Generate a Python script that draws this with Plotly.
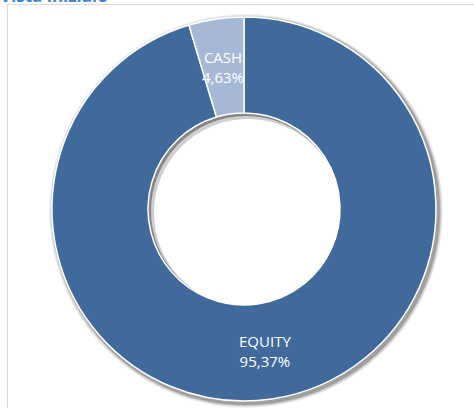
import math
import plotly.graph_objects as go

labels = ["EQUITY", "CASH"]
values = [95.37, 4.63]
colors = ["#3F6A9B", "#A7B8D6"]
title_text = "Vista iniziale"

W, H = 474, 408
CX, CY, R = 244, 209, 192   # pie centre and radius in pixels (from top-left)
HOLE = 0.5

dom_x = [(CX - R) / W, (CX + R) / W]
dom_y = [(H - CY - R) / H, (H - CY + R) / H]

fig = go.Figure(go.Pie(
    labels=labels, values=values, hole=HOLE, sort=False,
    direction="clockwise", rotation=0,
    marker=dict(colors=colors, line=dict(color="white", width=1.5)),
    textinfo="none", hoverinfo="label+percent",
    domain=dict(x=dom_x, y=dom_y), showlegend=False,
))

def px2paper(x, y):
    return x / W, 1 - y / H

shapes = []
# frame
shapes.append(dict(type="rect", xref="paper", yref="paper",
                   x0=7.5 / W, x1=1.02, y0=-0.02, y1=1 - 4.5 / H,
                   line=dict(color="#D9D9D9", width=1), fillcolor="rgba(0,0,0,0)",
                   layer="below"))
# outer shadow
for d, a in [(5, 0.05), (4, 0.08), (3, 0.12), (2, 0.18)]:
    x0, y0 = px2paper(CX - R - d + 2, CY - R - d + 2)
    x1, y1 = px2paper(CX + R + d + 2, CY + R + d + 2)
    shapes.append(dict(type="circle", xref="paper", yref="paper",
                       x0=x0, x1=x1, y0=y1, y1=y0, line=dict(width=0),
                       fillcolor=f"rgba(0,0,0,{a})", layer="below"))
# inner shadow inside hole
r_in = R * HOLE
x0, y0 = px2paper(CX - r_in, CY - r_in)
x1, y1 = px2paper(CX + r_in, CY + r_in)
shapes.append(dict(type="circle", xref="paper", yref="paper",
                   x0=x0, x1=x1, y0=y1, y1=y0, line=dict(width=0),
                   fillcolor="rgba(0,0,0,0.15)", layer="below"))
for off, rr, col in [(2, r_in - 1, "rgba(255,255,255,0.6)"), (4, r_in - 2, "white")]:
    x0, y0 = px2paper(CX - rr + off, CY - rr + off)
    x1, y1 = px2paper(CX + rr + off, CY + rr + off)
    shapes.append(dict(type="circle", xref="paper", yref="paper",
                       x0=x0, x1=x1, y0=y1, y1=y0, line=dict(width=0),
                       fillcolor=col, layer="below"))

# slice labels at mid radius of each slice (slices run clockwise from 12 o'clock)
annotations = []
total = sum(values)
cum = 0.0
r_mid = R * (1 + HOLE) / 2
for lab, v in zip(labels, values):
    mid = (cum + v / 2) / total * 2 * math.pi
    cum += v
    px = CX + r_mid * math.sin(mid)
    py = CY - r_mid * math.cos(mid)
    xp, yp = px2paper(px, py)
    pct = f"{v:.2f}".replace(".", ",") + "%"
    annotations.append(dict(x=xp, y=yp, xref="paper", yref="paper",
                            xanchor="center", yanchor="middle",
                            text=f"{lab}<br>{pct}", showarrow=False,
                            font=dict(family="Open Sans", size=15, color="white"),
                            align="center"))

annotations.append(dict(x=0, y=1, xref="paper", yref="paper", xanchor="left",
                        yanchor="bottom", yshift=-9, xshift=-2,
                        text=f"<b>{title_text}</b>", showarrow=False,
                        font=dict(family="Open Sans", size=17, color="#3E86D0")))

fig.update_layout(width=W, height=H, margin=dict(l=0, r=0, t=0, b=0),
                  paper_bgcolor="white", plot_bgcolor="white",
                  shapes=shapes, annotations=annotations)

fig.write_html("out.html", config={"displayModeBar": False},
               post_script="document.body.style.margin='0';document.body.style.overflow='hidden';")
